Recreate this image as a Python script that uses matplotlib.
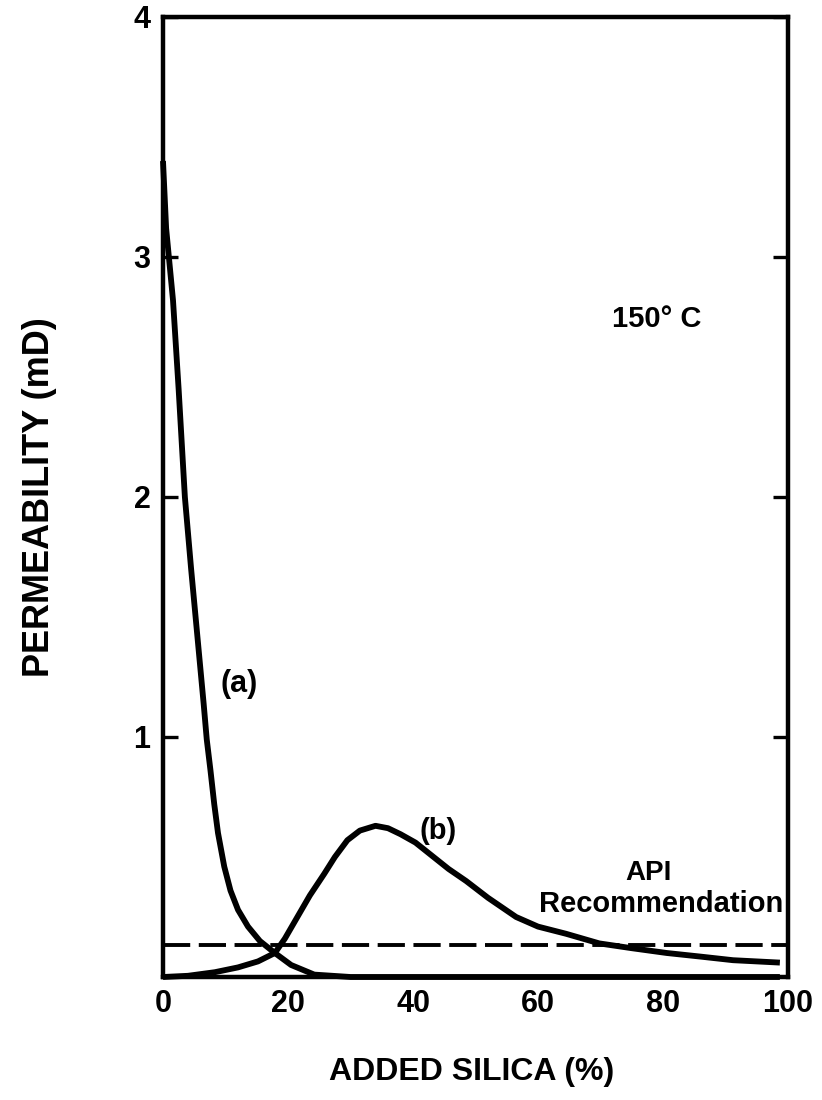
import matplotlib
matplotlib.use("Agg")
import matplotlib.pyplot as plt

plt.rcParams['font.family'] = ['Liberation Sans', 'DejaVu Sans']
plt.rcParams['font.weight'] = 'bold'

# curve (a): permeability falls off quickly with added silica
silica_a = [0, 0.5, 1.6, 2.5, 3.5, 4.5, 5.5, 6.5, 7.0, 7.6, 8.2, 8.8, 9.8,
            10.8, 12.0, 13.6, 15.5, 17.9, 20.5, 24.2, 30, 50, 75, 98.7]
perm_a = [3.40, 3.12, 2.82, 2.45, 2.00, 1.70, 1.42, 1.14, 0.99, 0.86, 0.72, 0.60, 0.46,
          0.36, 0.28, 0.21, 0.15, 0.10, 0.05, 0.01, 0.0, 0.0, 0.0, 0.0]

# curve (b): peak near 34 % silica
silica_b = [0, 4, 8.3, 12, 15.2, 17.9, 19.5, 21.5, 23.5, 25.8, 27.5, 29.5,
            31.5, 34.0, 36, 38, 40.4, 45.7, 48.5, 52, 56.5, 60, 64.5, 69.8,
            75, 80.6, 86, 91.2, 98.7]
perm_b = [0.0, 0.005, 0.02, 0.04, 0.065, 0.10, 0.16, 0.25, 0.34, 0.43, 0.50, 0.57,
          0.61, 0.63, 0.62, 0.595, 0.56, 0.45, 0.40, 0.33, 0.25, 0.21, 0.18, 0.14,
          0.12, 0.10, 0.085, 0.07, 0.06]

api_level = 0.135

x_ticks = [0, 20, 40, 60, 80, 100]
y_ticks = [1, 2, 3, 4]

fig = plt.figure(figsize=(8.22, 11), dpi=100)
ax = fig.add_axes([163 / 822, 1 - 977 / 1100, 625 / 822, 960 / 1100])

ax.plot(silica_a, perm_a, color='black', lw=4.2, solid_capstyle='butt', clip_on=False)
ax.plot(silica_b, perm_b, color='black', lw=4.2, solid_capstyle='butt', clip_on=False)
ax.axhline(api_level, color='black', lw=2.8, linestyle=(0, (7, 2.2)))

ax.set_xlim(0, 100)
ax.set_ylim(0, 4)

for s in ax.spines.values():
    s.set_linewidth(3.2)

ax.set_xticks(x_ticks)
ax.set_yticks(y_ticks)
ax.tick_params(axis='x', length=0, pad=9, labelsize=22)
ax.tick_params(axis='y', direction='in', length=11, width=2.4, pad=9,
               labelsize=22, right=True)

ax.set_xlabel('ADDED SILICA (%)', fontsize=23, fontweight='bold', va='center')
ax.xaxis.set_label_coords(0.494, -0.099)
ax.set_ylabel('PERMEABILITY (mD)', fontsize=26, fontweight='bold', va='center')
ax.yaxis.set_label_coords(-0.197, 0.5)

ax.text(12.2, 1.22, '(a)', fontsize=22, fontweight='bold', ha='center', va='center')
ax.text(44.0, 0.61, '(b)', fontsize=21, fontweight='bold', ha='center', va='center')
ax.text(77.6, 0.435, 'API', fontsize=20, fontweight='bold', ha='center', va='center')
ax.text(99.2, 0.305, 'Recommendation', fontsize=21, fontweight='bold', ha='right', va='center')
ax.text(79.0, 2.74, '150° C', fontsize=21, fontweight='bold', ha='center', va='center')

fig.savefig('out.png', dpi=100)
